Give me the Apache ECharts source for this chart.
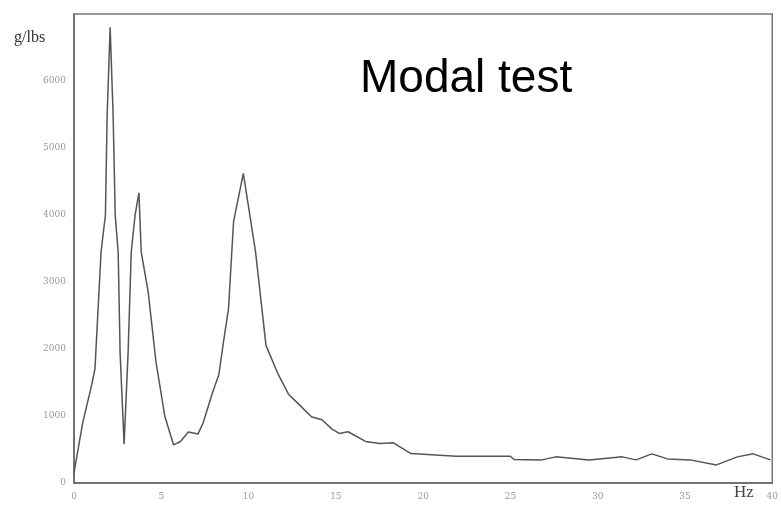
<!DOCTYPE html>
<html>
<head>
<meta charset="utf-8">
<script src="https://cdn.jsdelivr.net/npm/echarts@6/dist/echarts.min.js"></script>
<style>
  html, body { margin: 0; padding: 0; background: #fff; }
  #chart { width: 781px; height: 509px; }
</style>
</head>
<body>
<div id="chart"></div>
<script>
// frequency (Hz) and response (g/lbs)
var freqHz = [0, 0.5, 1.0, 1.2, 1.55, 1.8, 1.9, 2.07, 2.24, 2.36, 2.53, 2.64, 2.87,
  3.1, 3.28, 3.5, 3.72, 3.85, 4.25, 4.7, 5.2, 5.7, 6.1, 6.55, 7.1, 7.4, 7.9, 8.3,
  8.56, 8.85, 9.14, 9.7, 10.4, 11.0, 11.7, 12.3, 12.9, 13.6, 14.2, 14.8, 15.2, 15.7,
  16.7, 17.5, 18.3, 19.3, 21.9, 25.0, 25.2, 26.8, 27.6, 29.5, 30.1, 31.4, 32.2,
  33.1, 34.0, 35.3, 36.8, 38.0, 38.9, 39.9];
var response = [150, 900, 1450, 1700, 3450, 4000, 5500, 6800, 5500, 4000, 3450, 1950, 580,
  1950, 3450, 4000, 4330, 3450, 2850, 1800, 1000, 570, 620, 760, 730, 900, 1320, 1620,
  2100, 2600, 3900, 4620, 3450, 2050, 1620, 1320, 1170, 990, 945, 800, 740, 765,
  620, 590, 600, 440, 400, 400, 350, 345, 390, 345, 360, 390, 345,
  435, 360, 345, 270, 390, 435, 345];
var xTicks = [0, 5, 10, 15, 20, 25, 30, 35, 40];
var yTicks = [0, 1000, 2000, 3000, 4000, 5000, 6000, 7000];

var points = freqHz.map(function(f, i) { return [f, response[i]]; });

var chart = echarts.init(document.getElementById('chart'));
chart.setOption({
  animation: false,
  backgroundColor: '#fff',
  grid: {
    left: 74, right: 8, top: 14, bottom: 26,
    show: true, borderColor: '#777', borderWidth: 1.5
  },
  xAxis: {
    type: 'value',
    min: xTicks[0], max: xTicks[xTicks.length - 1], interval: 5,
    axisLine: { show: true, lineStyle: { color: '#666', width: 1.5 } },
    axisTick: { show: false },
    splitLine: { show: false },
    axisLabel: {
      color: '#999', fontSize: 9, margin: 9, fontFamily: 'DejaVu Serif',
      formatter: function(v) { return String(v); }
    }
  },
  yAxis: {
    type: 'value',
    min: yTicks[0], max: yTicks[yTicks.length - 1], interval: 1000,
    axisLine: { show: true, lineStyle: { color: '#666', width: 1.5 } },
    axisTick: { show: false },
    splitLine: { show: false },
    axisLabel: {
      color: '#999', fontSize: 9, margin: 8, fontFamily: 'DejaVu Serif',
      showMaxLabel: false,
      formatter: function(v) { return String(v); }
    }
  },
  graphic: [
    {
      type: 'text', left: 360, top: 56,
      style: { text: 'Modal test', fill: '#000', font: '46px "Liberation Sans", Arial, sans-serif' }
    },
    {
      type: 'text', left: 14, top: 30,
      style: { text: 'g/lbs', fill: '#333', font: '16px "Liberation Serif", "DejaVu Serif", serif' }
    },
    {
      type: 'text', left: 734, top: 484,
      style: { text: 'Hz', fill: '#444', font: '17px "Liberation Serif", "DejaVu Serif", serif' }
    }
  ],
  series: [{
    type: 'line',
    data: points,
    symbol: 'none',
    smooth: false,
    lineStyle: { color: '#555', width: 1.5 }
  }]
});
</script>
</body>
</html>
